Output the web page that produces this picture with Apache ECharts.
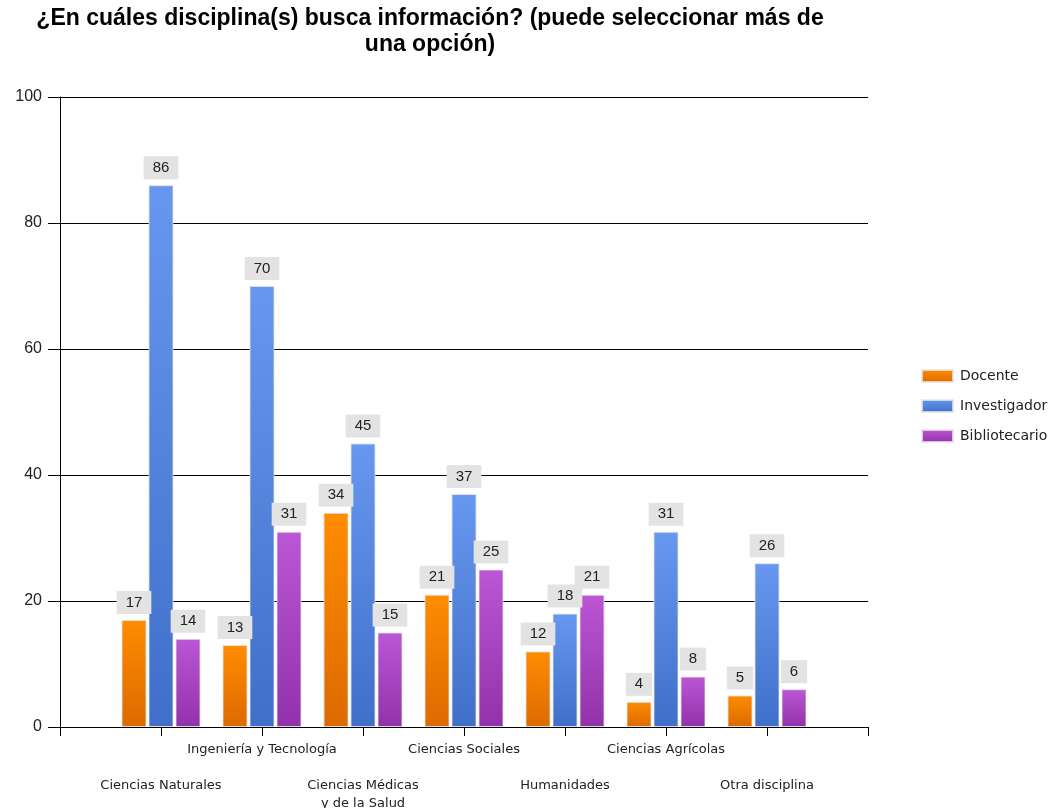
<!DOCTYPE html>
<html>
<head>
<meta charset="utf-8">
<script src="https://cdn.jsdelivr.net/npm/echarts@6/dist/echarts.min.js"></script>
<style>html,body{margin:0;padding:0;background:#fff}#c{width:1051px;height:808px}</style>
</head>
<body>
<div id="c"></div>
<script>
const categories = ['Ciencias Naturales', 'Ingeniería y Tecnología', 'Ciencias Médicas\ny de la Salud', 'Ciencias Sociales', 'Humanidades', 'Ciencias Agrícolas', 'Otra disciplina'];
const docente = [17, 13, 34, 21, 12, 4, 5];
const investigador = [86, 70, 45, 37, 18, 31, 26];
const bibliotecario = [14, 31, 15, 25, 21, 8, 6];
const yTicks = [0, 20, 40, 60, 80, 100];

const FONT = '"Liberation Sans", Arial, sans-serif';
const FONT2 = '"DejaVu Sans", Tahoma, sans-serif';
const pad = arr => [null].concat(arr, [null]);
const axisCats = [''].concat(categories, ['']);

function grad(top, bottom) {
  return new echarts.graphic.LinearGradient(0, 0, 0, 1, [
    {offset: 0, color: top}, {offset: 1, color: bottom}
  ]);
}
const labelCfg = {
  show: true, position: 'top', distance: 6,
  backgroundColor: '#e3e3e3', padding: [4, 9, 4, 9],
  fontSize: 15, color: '#222', fontFamily: FONT
};
function mk(name, data, top, bottom) {
  return {
    name: name, type: 'bar', data: pad(data),
    barWidth: 25, barGap: '8%',
    itemStyle: {color: grad(top, bottom), borderColor: 'rgba(230,230,230,0.8)', borderWidth: 1},
    label: labelCfg
  };
}
const chart = echarts.init(document.getElementById('c'));
chart.setOption({
  animation: false,
  backgroundColor: '#fff',
  title: {
    text: '¿En cuáles disciplina(s) busca información? (puede seleccionar más de\nuna opción)',
    left: 430, top: 6, textAlign: 'center', padding: 0,
    textStyle: {fontFamily: FONT, fontSize: 23, fontWeight: 'bold', color: '#000', lineHeight: 26}
  },
  legend: {
    orient: 'vertical', left: 921, top: 369, padding: 0,
    itemWidth: 31, itemHeight: 12, itemGap: 16, icon: 'rect',
    textStyle: {fontFamily: FONT2, fontSize: 14, color: '#222', padding: [0, 0, 0, 2]},
    data: ['Docente', 'Investigador', 'Bibliotecario']
  },
  grid: {left: 60, right: 183, top: 97, bottom: 81, containLabel: false, outerBoundsMode: 'none'},
  xAxis: {
    type: 'category', data: axisCats, boundaryGap: false,
    axisLine: {lineStyle: {color: '#000', width: 1}},
    axisTick: {show: true, interval: 0, length: 9, lineStyle: {color: '#000'}},
    axisLabel: {
      interval: 0, margin: 14, fontFamily: FONT2, fontSize: 13, color: '#222', lineHeight: 18,
      formatter: function (v, i) { return (i % 2 === 1) ? '\n\n' + v : v; }
    },
    splitLine: {show: false}
  },
  yAxis: {
    type: 'value', min: yTicks[0], max: yTicks[yTicks.length - 1], interval: 20,
    axisLine: {show: true, lineStyle: {color: '#000'}},
    axisTick: {show: true, length: 12, lineStyle: {color: '#000'}},
    axisLabel: {margin: 18, fontFamily: FONT, fontSize: 16, color: '#222'},
    splitLine: {show: true, lineStyle: {color: '#000', width: 1}}
  },
  series: [
    mk('Docente', docente, '#ff8c00', '#dc6a00'),
    mk('Investigador', investigador, '#6797ee', '#3f6fc8'),
    mk('Bibliotecario', bibliotecario, '#bb56d4', '#9232aa')
  ]
});
</script>
</body>
</html>
